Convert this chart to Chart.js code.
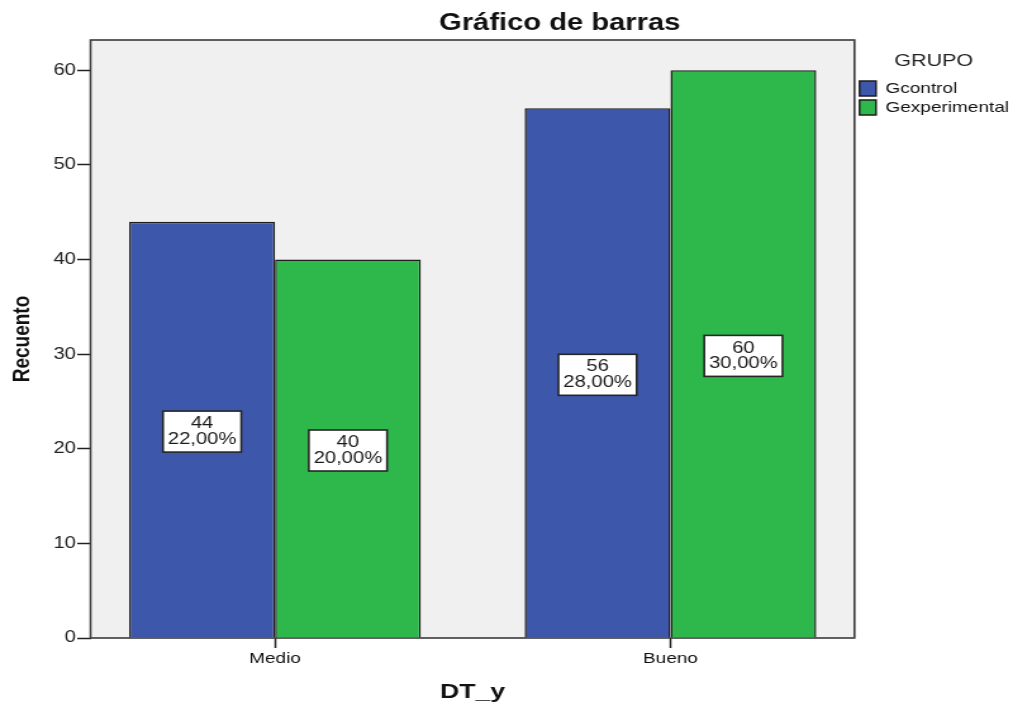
<!DOCTYPE html>
<html>
<head>
<meta charset="utf-8">
<script src="https://cdn.jsdelivr.net/npm/chart.js@4.4.1/dist/chart.umd.min.js"></script>
<style>
html,body{margin:0;padding:0;background:#fff;overflow:hidden}
</style>
</head>
<body>
<canvas id="c" width="800" height="706" style="display:block;width:1013px;height:706px"></canvas>
<script>
// ---- data ----
const categories = ['Medio', 'Bueno'];
const seriesNames = ['Gcontrol', 'Gexperimental'];
const gcontrolCounts = [44, 56];
const gexperimentalCounts = [40, 60];
const gcontrolPercents = ['22,00%', '28,00%'];
const gexperimentalPercents = ['20,00%', '30,00%'];
const yTickValues = [0, 10, 20, 30, 40, 50, 60];

const FONT = "'Liberation Sans', Arial, Helvetica, sans-serif";

function toPoints(values) {
  return values.map((v, i) => ({ x: i, y: v }));
}

const framePlugin = {
  id: 'frame',
  afterLayout(chart) {
    if (chart.titleBlock) {
      chart.titleBlock.left = 84;
      chart.titleBlock.right = chart.width;
    }
  },
  beforeDraw(chart) {
    const { ctx, chartArea: a } = chart;
    ctx.save();
    ctx.fillStyle = '#f0f0f0';
    ctx.fillRect(a.left, a.top, a.right - a.left, a.bottom - a.top);
    ctx.restore();
  },
  beforeDatasetsDraw(chart) {
    const { ctx, chartArea: a } = chart;
    ctx.save();
    ctx.strokeStyle = '#3a3a3a';
    ctx.lineWidth = 1.6;
    ctx.strokeRect(a.left, a.top, a.right - a.left, a.bottom - a.top);
    ctx.restore();
  }
};

const labelPlugin = {
  id: 'boxLabels',
  afterDatasetsDraw(chart) {
    const ctx = chart.ctx;
    ctx.save();
    ctx.font = '16px ' + FONT;
    ctx.textAlign = 'center';
    ctx.textBaseline = 'middle';
    chart.data.datasets.forEach((ds, di) => {
      const meta = chart.getDatasetMeta(di);
      meta.data.forEach((bar, i) => {
        const lines = [String(ds.counts[i]), ds.percents[i]];
        const w = Math.max(...lines.map(t => ctx.measureText(t).width)) + 7.5;
        const lh = 15.5;
        const h = lines.length * lh + 10;
        const cx = bar.x;
        const cy = (bar.y + bar.base) / 2 + 2;
        ctx.fillStyle = '#ffffff';
        ctx.fillRect(cx - w / 2, cy - h / 2, w, h);
        ctx.strokeStyle = '#262626';
        ctx.lineWidth = 1.6;
        ctx.strokeRect(cx - w / 2, cy - h / 2, w, h);
        ctx.fillStyle = '#1a1a1a';
        lines.forEach((t, k) => {
          ctx.fillText(t, cx, cy + (k - (lines.length - 1) / 2) * lh);
        });
      });
    });
    ctx.restore();
  }
};

new Chart(document.getElementById('c'), {
  type: 'bar',
  data: {
    datasets: [
      {
        label: seriesNames[0],
        data: toPoints(gcontrolCounts),
        counts: gcontrolCounts,
        percents: gcontrolPercents,
        backgroundColor: '#3d57aa',
        borderColor: '#1e1e1e',
        borderWidth: 1.5
      },
      {
        label: seriesNames[1],
        data: toPoints(gexperimentalCounts),
        counts: gexperimentalCounts,
        percents: gexperimentalPercents,
        backgroundColor: '#2eb84c',
        borderColor: '#1e1e1e',
        borderWidth: 1.5
      }
    ]
  },
  options: {
    responsive: false,
    animation: false,
    devicePixelRatio: 1,
    events: [],
    categoryPercentage: 0.7374,
    barPercentage: 1,
    layout: { padding: 0 },
    plugins: {
      tooltip: { enabled: false },
      title: {
        display: true,
        text: 'Gráfico de barras',
        color: '#111',
        font: { family: FONT, size: 23, weight: 'bold' },
        padding: { top: 10, bottom: 2.4 }
      },
      legend: {
        position: 'right',
        align: 'start',
        fullSize: false,
        maxWidth: 125.2,
        title: {
          display: true,
          text: 'GRUPO',
          color: '#222',
          font: { family: FONT, size: 17 },
          padding: { top: 12.5, bottom: 4.1 }
        },
        labels: {
          boxWidth: 13,
          boxHeight: 15,
          padding: 4,
          color: '#111',
          font: { family: FONT, size: 15 }
        }
      }
    },
    scales: {
      x: {
        type: 'linear',
        offset: false,
        min: -0.4665,
        max: 1.4653,
        afterBuildTicks(scale) {
          scale.ticks = categories.map((c, i) => ({ value: i }));
        },
        afterFit(scale) { scale.height = 68; },
        ticks: {
          autoSkip: false,
          maxRotation: 0,
          padding: 2,
          color: '#111',
          font: { family: FONT, size: 15 },
          callback: (v) => categories[v]
        },
        grid: {
          display: true,
          offset: false,
          drawOnChartArea: false,
          drawTicks: true,
          tickLength: 10,
          tickColor: '#222',
          tickWidth: 1.5
        },
        border: { display: false },
        title: {
          display: true,
          text: 'DT_y',
          color: '#111',
          font: { family: FONT, size: 21, weight: 'bold' },
          padding: { top: 0, bottom: 1.4 }
        }
      },
      y: {
        min: 0,
        max: 63.2,
        afterBuildTicks(scale) {
          scale.ticks = yTickValues.map(v => ({ value: v }));
        },
        afterFit(scale) { scale.width = 71.5; },
        ticks: {
          padding: 1,
          color: '#222',
          font: { family: FONT, size: 16 }
        },
        grid: {
          display: true,
          drawOnChartArea: false,
          drawTicks: true,
          tickLength: 10.5,
          tickColor: '#222',
          tickWidth: 1.5
        },
        border: { display: false },
        title: {
          display: true,
          text: 'Recuento',
          color: '#111',
          font: { family: FONT, size: 19, weight: 'bold' },
          padding: { top: 6.8, bottom: 0 }
        }
      }
    }
  },
  plugins: [framePlugin, labelPlugin]
});
</script>
</body>
</html>
